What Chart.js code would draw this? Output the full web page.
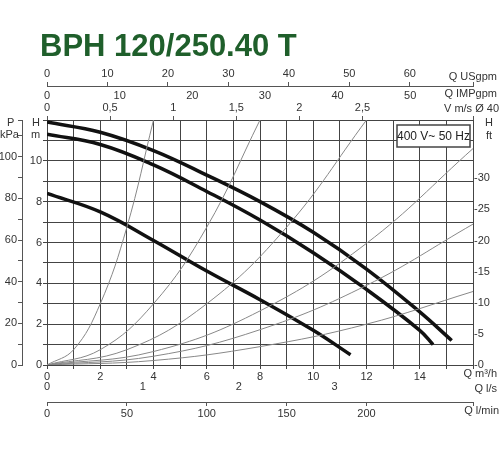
<!DOCTYPE html>
<html><head><meta charset="utf-8">
<script src="https://cdn.jsdelivr.net/npm/chart.js@4"></script>
<style>html,body{margin:0;padding:0;background:#fff}#w{width:500px;height:450px}</style>
</head><body><div id="w"><canvas id="c"></canvas></div>
<script>
const pumpTopQ = [0, 2, 4, 6, 8, 10, 12, 14, 15.2];
const pumpTopH = [11.9, 11.4, 10.5, 9.3, 8.0, 6.5, 4.7, 2.6, 1.2];
const pumpMidQ = [0, 2, 4, 6, 8, 10, 12, 14, 14.5];
const pumpMidH = [11.3, 10.8, 9.8, 8.5, 7.1, 5.5, 3.7, 1.7, 1.0];
const pumpLowQ = [0, 2, 4, 6, 8, 10, 11.4];
const pumpLowH = [8.4, 7.5, 6.1, 4.6, 3.2, 1.7, 0.5];
const sys1Q = [0, 1, 2, 3, 4];        const sys1H = [0, 0.75, 3, 6.75, 12];
const sys2Q = [0, 2, 4, 6, 8];        const sys2H = [0, 0.75, 3, 6.75, 12];
const sys3Q = [0, 3, 6, 9, 12];       const sys3H = [0, 0.75, 3, 6.75, 12];
const sys4Q = [0, 4, 8, 12, 16];      const sys4H = [0, 0.66, 2.65, 5.96, 10.6];
const sys5Q = [0, 4, 8, 12, 16];      const sys5H = [0, 0.43, 1.73, 3.9, 6.9];
const sys6Q = [0, 4, 8, 12, 16];      const sys6H = [0, 0.22, 0.9, 2.0, 3.6];
const title = 'BPH 120/250.40 T';
const boxLabel = '400 V~ 50 Hz';

const pts = (q, h) => q.map((v, i) => ({x: v, y: h[i]}));
const pump = (q, h) => ({data: pts(q, h), borderColor: '#111', borderWidth: 3.5, pointRadius: 0, tension: 0.4, fill: false});
const sys = (q, h) => ({data: pts(q, h), borderColor: '#888', borderWidth: 1, pointRadius: 0, tension: 0.4, fill: false});

const QMAX = 16, HMAX = 12;
const F = {family: 'Liberation Sans, Arial', size: 11};
const tk = {color: '#333', font: F, padding: 1};
const noGrid = {display: false};
const gridMark = {drawOnChartArea: false, drawTicks: true, tickLength: 4, color: '#555'};
const isStep = s => v => Math.abs(v / s - Math.round(v / s)) < 1e-6;

const deco = {
  id: 'deco',
  afterDraw(ch) {
    const c = ch.ctx; c.save();
    c.fillStyle = '#1f5f2b'; c.font = 'bold 31px Liberation Sans, Arial';
    c.textBaseline = 'alphabetic'; c.fillText(title, 40, 56);
    c.fillStyle = '#333'; c.font = '11px Liberation Sans, Arial';
    c.textAlign = 'right';
    c.fillText('Q USgpm', 497, 80); c.fillText('Q IMPgpm', 497, 97); c.fillText('V m/s Ø 40', 499, 112);
    c.fillText('Q m³/h', 497, 377); c.fillText('Q l/s', 497, 392); c.fillText('Q l/min', 499, 414);
    c.textAlign = 'left';
    c.fillText('H', 485, 126); c.fillText('ft', 486, 139);
    c.fillText('P', 7, 126); c.fillText('kPa', 0, 138);
    c.fillText('H', 32, 126); c.fillText('m', 31, 138);
    const a = ch.chartArea;
    const bx = a.right - 76, by = a.top + 5;
    c.fillStyle = '#fff'; c.fillRect(bx, by, 73, 22);
    c.strokeStyle = '#444'; c.lineWidth = 1.5; c.strokeRect(bx, by, 73, 22);
    c.fillStyle = '#222'; c.font = '12px Liberation Sans, Arial'; c.textAlign = 'center';
    c.fillText(boxLabel, bx + 36.5, by + 15);
    c.restore();
  }
};
const fixW = w => function (s) { s.width = w; };
const fixH = h => function (s) { s.height = h; };

new Chart(document.getElementById('c'), {
  type: 'line',
  data: {datasets: [
    sys(sys1Q, sys1H), sys(sys2Q, sys2H), sys(sys3Q, sys3H), sys(sys4Q, sys4H), sys(sys5Q, sys5H), sys(sys6Q, sys6H),
    pump(pumpTopQ, pumpTopH), pump(pumpMidQ, pumpMidH), pump(pumpLowQ, pumpLowH)
  ]},
  options: {
    responsive: true, maintainAspectRatio: false, animation: false,
    layout: {padding: {top: 66, left: 0, right: 7, bottom: 30}},
    plugins: {legend: {display: false}, tooltip: {enabled: false}},
    scales: {
      x: {type: 'linear', position: 'bottom', min: 0, max: QMAX, weight: 0,
        ticks: {...tk, stepSize: 1, autoSkip: false, maxRotation: 0, callback: v => (v % 2 === 0 && v < 16) ? v : ''},
        grid: {color: '#444', lineWidth: 1, tickLength: 4}, border: {color: '#444'}, afterFit: fixH(17)},
      xls: {type: 'linear', position: 'bottom', min: 0, max: QMAX / 3.6, weight: 1,
        ticks: {...tk, padding: -10, stepSize: 1, maxRotation: 0, callback: v => isStep(1)(v) ? v : ''}, grid: noGrid, border: {display: false}, afterFit: fixH(20)},
      xlm: {type: 'linear', position: 'bottom', min: 0, max: QMAX * 1000 / 60, weight: 2,
        ticks: {...tk, stepSize: 50, maxRotation: 0, callback: v => (isStep(50)(v) && v <= 250) ? v : ''}, grid: gridMark, border: {color: '#555'}, afterFit: fixH(18)},
      xv: {type: 'linear', position: 'top', min: 0, max: QMAX * 0.211, weight: 0,
        ticks: {...tk, stepSize: 0.5, maxRotation: 0, callback: v => (isStep(0.5)(v) && v <= 3) ? String(v).replace('.', ',') : ''},
        grid: gridMark, border: {display: false}, afterFit: fixH(18)},
      ximp: {type: 'linear', position: 'top', min: 0, max: QMAX * 3.666, weight: 1,
        ticks: {...tk, padding: -9, stepSize: 10, maxRotation: 0, callback: v => (isStep(10)(v) && v <= 50) ? v : ''}, grid: noGrid, border: {display: false}, afterFit: fixH(16)},
      xus: {type: 'linear', position: 'top', min: 0, max: QMAX * 4.403, weight: 2,
        ticks: {...tk, stepSize: 10, maxRotation: 0, callback: v => (isStep(10)(v) && v <= 60) ? v : ''}, grid: gridMark, border: {color: '#555'}, afterFit: fixH(20)},
      y: {type: 'linear', position: 'left', min: 0, max: HMAX, weight: 0,
        ticks: {...tk, stepSize: 1, autoSkip: false, callback: v => (v % 2 === 0 && v < 12) ? v : ''},
        grid: {color: '#444', lineWidth: 1, tickLength: 4}, border: {color: '#444'}, afterFit: fixW(25)},
      ykpa: {type: 'linear', position: 'left', min: 0, max: HMAX * 9.807, weight: 1,
        ticks: {...tk, stepSize: 10, autoSkip: false, callback: v => (isStep(20)(v)) ? v : ''},
        grid: gridMark, border: {color: '#555'}, afterFit: fixW(22)},
      yft: {type: 'linear', position: 'right', min: 0, max: HMAX * 3.2808, weight: 0,
        ticks: {...tk, stepSize: 5, autoSkip: false, callback: v => (isStep(5)(v) && v <= 30) ? '-' + v : ''},
        grid: {drawOnChartArea: false, drawTicks: false}, border: {color: '#444'}, afterFit: fixW(20)}
    }
  },
  plugins: [deco]
});
</script></body></html>
